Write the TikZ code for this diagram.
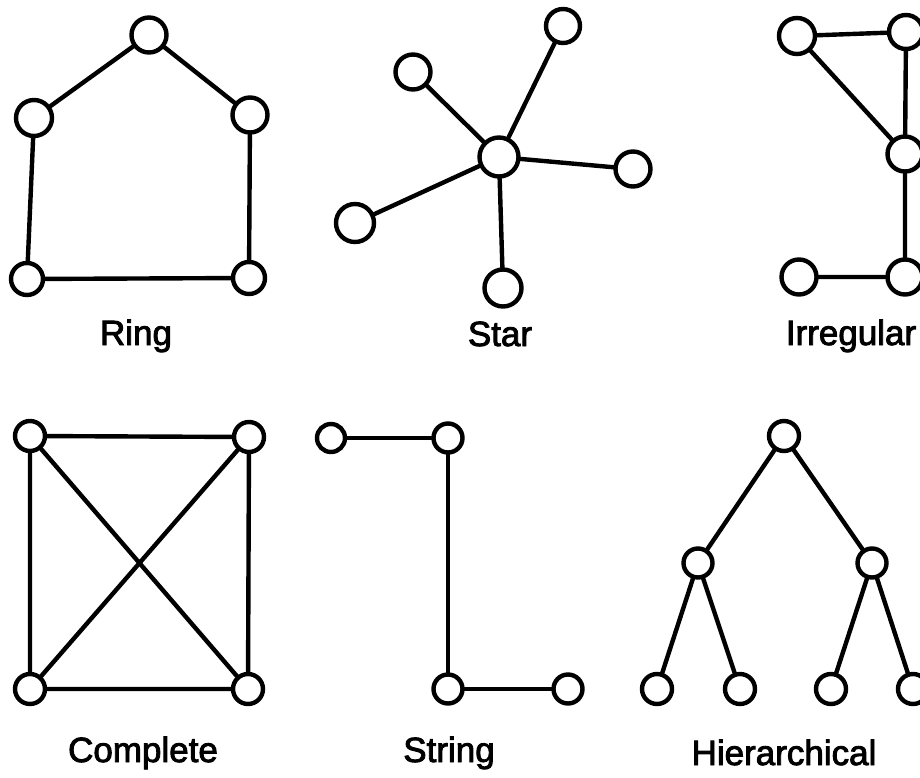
\documentclass[tikz,border=0pt]{standalone}
\usepackage{fontspec}
\newfontfamily\labfont[FakeBold=2.5]{Liberation Sans}
\begin{document}
\begin{tikzpicture}[x=1pt,y=-1pt,
  nd/.style={circle,draw=black,line width=4.4pt,fill=white,inner sep=0pt,minimum size=#1},
  nd/.default=30pt,
  edge/.style={line width=4.4pt,line cap=round},
  lab/.style={anchor=base,inner sep=0pt,font=\labfont\fontsize{35}{40}\selectfont}]
\useasboundingbox (0,0) rectangle (920,778);
\clip (0,0) rectangle (920,778);
% Ring
\node[nd=35pt] (r1) at (149,35) {};
\node[nd=36pt] (r2) at (34,118) {};
\node[nd=35pt] (r3) at (250,115) {};
\node[nd=32pt] (r4) at (27,279) {};
\node[nd=32pt] (r5) at (249,278) {};
\draw[edge] (r1) -- (r2) (r1) -- (r3) (r2) -- (r4) (r3) -- (r5) (r4) -- (r5);
\node[lab] (ringlab) at (136,345) {Ring};
% Star
\node[nd=39pt] (s0) at (499,157) {};
\node[nd=34pt] (s1) at (563,26) {};
\node[nd=35pt] (s2) at (413,72) {};
\node[nd=35pt] (s3) at (633,169) {};
\node[nd=38pt] (s4) at (355,223) {};
\node[nd=37pt] (s5) at (503,288) {};
\foreach \t in {s1,s2,s3,s4,s5} \draw[edge] (s0) -- (\t);
\node[lab] (starlab) at (500,346) {Star};
% Irregular
\node[nd=36pt] (i1) at (797,36) {};
\node[nd=34pt] (i2) at (906,32) {};
\node[nd=35pt] (i3) at (905,154) {};
\node[nd=35pt] (i4) at (799,277) {};
\node[nd=35pt] (i5) at (905,277) {};
\draw[edge] (i1) -- (i2) (i1) -- (i3) (i2) -- (i3) (i3) -- (i5) (i4) -- (i5);
\node[lab] (irrlab) at (851,345) {Irregular};
% Complete
\node[nd=30pt] (c1) at (30,436) {};
\node[nd=30pt] (c2) at (249,437) {};
\node[nd=30pt] (c3) at (30,689) {};
\node[nd=30pt] (c4) at (248,689) {};
\draw[edge] (c1) -- (c2) (c1) -- (c3) (c1) -- (c4) (c2) -- (c3) (c2) -- (c4) (c3) -- (c4);
\node[lab] (complab) at (143,762) {Complete};
% String
\node[nd=28pt] (t1) at (331,438) {};
\node[nd=29pt] (t2) at (448,438) {};
\node[nd=29pt] (t3) at (448,689) {};
\node[nd=29pt] (t4) at (568,689) {};
\draw[edge] (t1) -- (t2) -- (t3) -- (t4);
\node[lab] (strlab) at (449,762) {String};
% Hierarchical
\node[nd=30pt] (h0) at (784,436) {};
\node[nd=29pt] (h1) at (698,563) {};
\node[nd=29pt] (h2) at (872,563) {};
\node[nd=30pt] (h3) at (657,689) {};
\node[nd=30pt] (h4) at (740,689) {};
\node[nd=30pt] (h5) at (831,689) {};
\node[nd=30pt] (h6) at (913,689) {};
\draw[edge] (h0) -- (h1) (h0) -- (h2) (h1) -- (h3) (h1) -- (h4) (h2) -- (h5) (h2) -- (h6);
\node[lab] (hierlab) at (784,765) {Hierarchical};
\end{tikzpicture}
\end{document}
